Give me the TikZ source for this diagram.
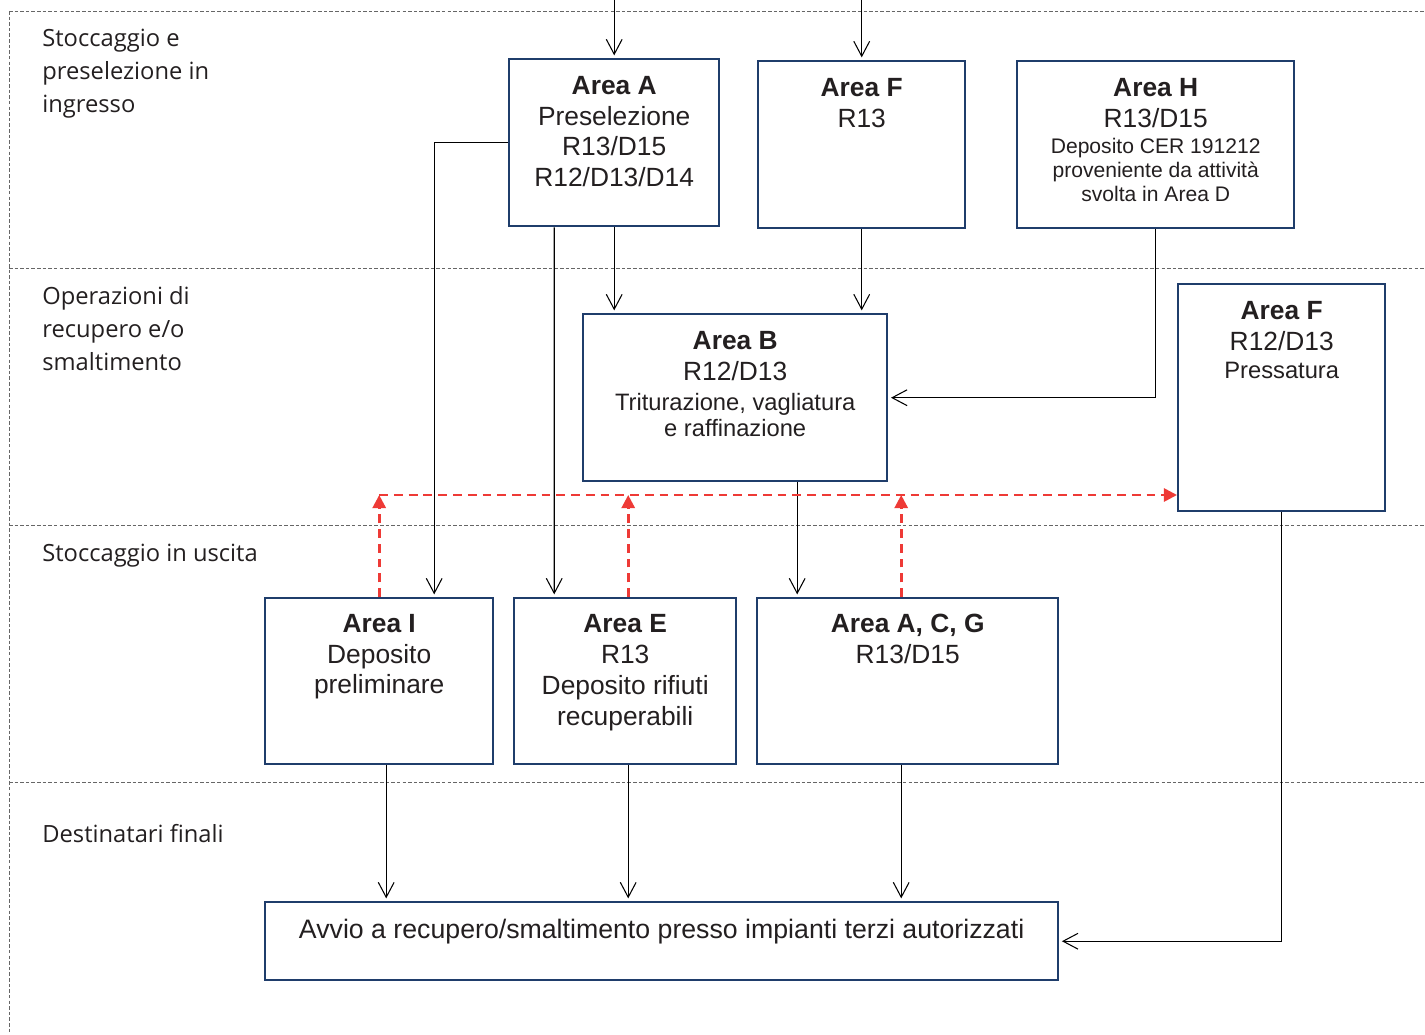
\documentclass[tikz,border=0pt]{standalone}
\usepackage{fontspec}
\setmainfont{Liberation Sans}
\newfontfamily\lblfont{Open Sans}
\usetikzlibrary{positioning,arrows.meta,calc}
\definecolor{boxblue}{HTML}{1F3D6B}
\definecolor{flowred}{HTML}{EE3A36}
\definecolor{txtgray}{HTML}{231F20}

\begin{document}
\begin{tikzpicture}[x=0.02cm,y=-0.02cm,
  areabox/.style={draw=boxblue,line width=1.4pt,anchor=north west,inner sep=0pt},
  boxtxt/.style={anchor=north,inner sep=0pt,align=center,text=txtgray,font=\fontsize{15}{17.5}\selectfont},
  smalltxt/.style={boxtxt,font=\fontsize{13.5}{14.8}\selectfont},
  lbl/.style={anchor=north west,inner sep=0pt,align=left,text=txtgray,font=\lblfont\fontsize{13.5}{18.8}\selectfont},
  sep/.style={draw=black!60,line width=0.4pt,dash pattern=on 2pt off 1.2pt},
  flow/.style={-{Straight Barb[length=8.5pt,width=9pt]},line width=0.6pt,shorten >=1.5pt},
  back/.style={-{Triangle[length=7.5pt,width=7.5pt]},flowred,line width=1.5pt,dash pattern=on 5pt off 3.4pt}]
  \useasboundingbox (0,0) rectangle (1425,1034);

  % bande
  \draw[sep] (9,11) -- (1425,11);
  \draw[sep] (9,268) -- (1425,268);
  \draw[sep] (9,525) -- (1425,525);
  \draw[sep] (9,782) -- (1425,782);
  \draw[sep] (9,11) -- (9,1034);
  \node[lbl] (lab1) at (42,29) {Stoccaggio e\\preselezione in\\ingresso};
  \node[lbl] (lab2) at (42,286) {Operazioni di\\recupero e/o\\smaltimento};
  \node[lbl] (lab3) at (42,544) {Stoccaggio in uscita};
  \node[lbl] (lab4) at (42,824) {Destinatari finali};

  % aree
  \node[areabox,minimum width=4.2cm,minimum height=3.34cm] (areaA) at (508,58) {};
  \node[boxtxt] (areaA-t) at ([yshift=-0.36cm]areaA.north) {\textbf{Area A}\\Preselezione\\R13/D15\\R12/D13/D14};
  \node[areabox,minimum width=4.14cm,minimum height=3.34cm] (areaF) at (757,60) {};
  \node[boxtxt] (areaF-t) at ([yshift=-0.36cm]areaF.north) {\textbf{Area F}\\R13};
  \node[areabox,minimum width=5.54cm,minimum height=3.34cm] (areaH) at (1016,60) {};
  \node[boxtxt] (areaH-t) at ([yshift=-0.36cm]areaH.north) {\textbf{Area H}\\R13/D15};
  \node[boxtxt,font=\fontsize{12}{13.7}\selectfont] (areaH-s) at ([yshift=-1.55cm]areaH.north) {Deposito CER 191212\\proveniente da attività\\svolta in Area D};
  \node[areabox,minimum width=6.08cm,minimum height=3.34cm] (areaB) at (582,313) {};
  \node[boxtxt] (areaB-t) at ([yshift=-0.36cm]areaB.north) {\textbf{Area B}\\R12/D13};
  \node[smalltxt] (areaB-s) at ([yshift=-1.59cm]areaB.north) {Triturazione, vagliatura\\e raffinazione};
  \node[areabox,minimum width=4.14cm,minimum height=4.54cm] (areaFp) at (1177,283) {};
  \node[boxtxt] (areaFp-t) at ([yshift=-0.36cm]areaFp.north) {\textbf{Area F}\\R12/D13};
  \node[smalltxt] (areaFp-s) at ([yshift=-1.57cm]areaFp.north) {Pressatura};
  \node[areabox,minimum width=4.56cm,minimum height=3.32cm] (areaI) at (264,597) {};
  \node[boxtxt] (areaI-t) at ([yshift=-0.34cm]areaI.north) {\textbf{Area I}\\Deposito\\preliminare};
  \node[areabox,minimum width=4.44cm,minimum height=3.32cm] (areaE) at (513,597) {};
  \node[boxtxt] (areaE-t) at ([yshift=-0.35cm]areaE.north) {\textbf{Area E}\\R13\\Deposito rifiuti\\recuperabili};
  \node[areabox,minimum width=6.02cm,minimum height=3.32cm] (areaACG) at (756,597) {};
  \node[boxtxt] (areaACG-t) at ([yshift=-0.34cm]areaACG.north) {\textbf{Area A, C, G}\\R13/D15};
  \node[areabox,minimum width=15.86cm,minimum height=1.56cm] (avvio) at (264,901) {};
  \node[boxtxt,font=\fontsize{15.2}{17.5}\selectfont] (avvio-t) at ([yshift=-0.35cm]avvio.north) {Avvio a recupero/smaltimento presso impianti terzi autorizzati};

  % flussi
  \coordinate (inA) at (areaA.north |- 0,0);
  \coordinate (inF) at (areaF.north |- 0,0);
  \draw[flow] (inA) -- (areaA.north);
  \draw[flow] (inF) -- (areaF.north);
  \draw[flow] (areaA.west) -| ([xshift=1.1cm]areaI.north);
  \draw[flow] ([xshift=-1.2cm]areaA.south) -- ([xshift=-1.42cm]areaE.north);
  \draw[flow] (areaA.south) -- (areaA.south |- areaB.north);
  \draw[flow] (areaF.south) -- (areaF.south |- areaB.north);
  \draw[flow] (areaH.south) |- (areaB.east);
  \coordinate (bOut) at ([xshift=1.24cm]areaB.south);
  \draw[flow] (bOut) -- (bOut |- areaACG.north);
  \coordinate (iOut) at ([xshift=0.14cm]areaI.south);
  \coordinate (eOut) at ([xshift=0.06cm]areaE.south);
  \coordinate (gOut) at ([xshift=-0.13cm]areaACG.south);
  \draw[flow] (iOut) -- (iOut |- avvio.north);
  \draw[flow] (eOut) -- (eOut |- avvio.north);
  \draw[flow] (gOut) -- (gOut |- avvio.north);
  \draw[flow] (areaFp.south) |- (avvio.east);

  % ricircolo
  \coordinate (rl) at (areaI.north |- 0,495);
  \coordinate (eUp) at ([xshift=0.06cm]areaE.north);
  \coordinate (gUp) at ([xshift=-0.13cm]areaACG.north);
  \draw[back] (areaI.north) -- (rl);
  \draw[back] (eUp) -- (eUp |- rl);
  \draw[back] (gUp) -- (gUp |- rl);
  \draw[back] (rl) -- (rl -| areaFp.west);
\end{tikzpicture}
\end{document}
